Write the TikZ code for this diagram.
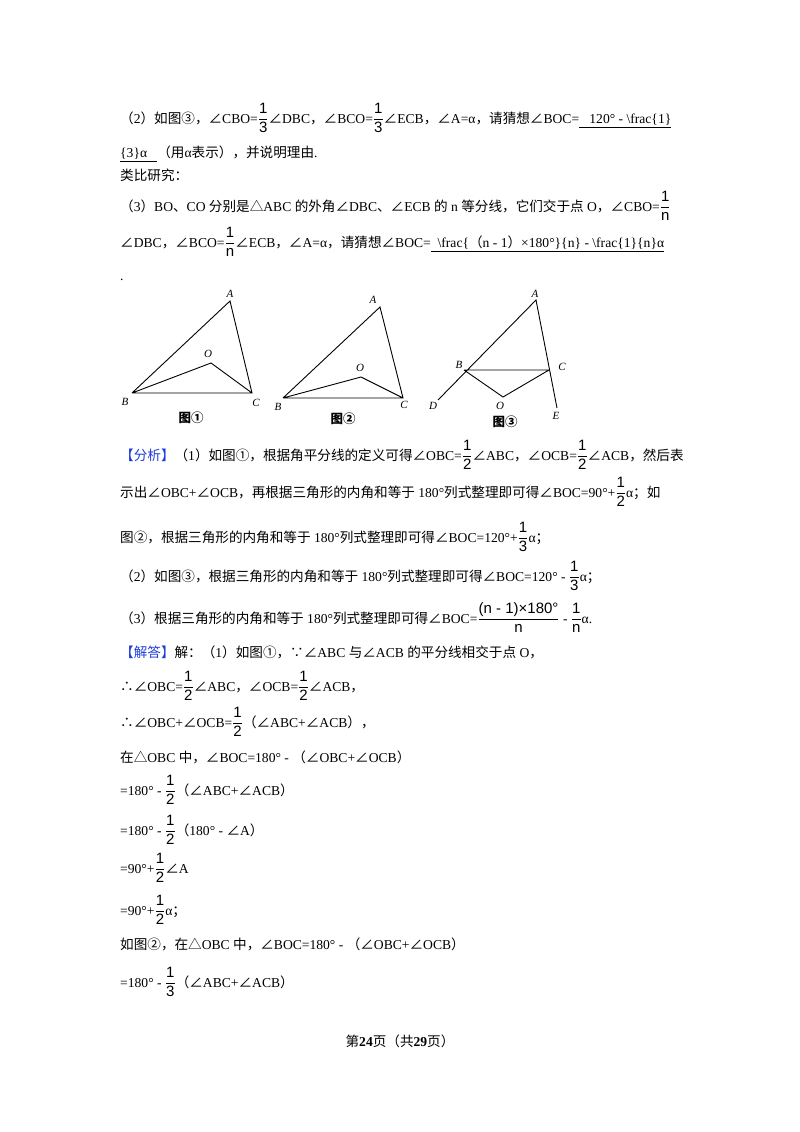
\documentclass[tikz,border=0pt]{standalone}
\usepackage{amsmath}
\usepackage{fontspec}
\setmainfont{Liberation Serif}
\newfontfamily\cjk{Noto Sans CJK SC}
\newfontfamily\frf{Liberation Sans}
\XeTeXinterchartokenstate=1
\newXeTeXintercharclass\cjkcls
\count255="4E00
\loop \XeTeXcharclass\count255=\cjkcls \advance\count255 by 1 \ifnum\count255<"A000 \repeat
\count255="3000
\loop \XeTeXcharclass\count255=\cjkcls \advance\count255 by 1 \ifnum\count255<"3040 \repeat
\count255="FF00
\loop \XeTeXcharclass\count255=\cjkcls \advance\count255 by 1 \ifnum\count255<"FF60 \repeat
\count255="2460
\loop \XeTeXcharclass\count255=\cjkcls \advance\count255 by 1 \ifnum\count255<"2474 \repeat
\XeTeXcharclass"2220=\cjkcls
\XeTeXcharclass"2234=\cjkcls
\XeTeXcharclass"2235=\cjkcls
\XeTeXcharclass"25B3=\cjkcls
\XeTeXinterchartoks 0 \cjkcls = {\cjk}
\XeTeXinterchartoks 4095 \cjkcls = {\cjk}
\XeTeXinterchartoks \cjkcls 0 = {\rmfamily}
\XeTeXinterchartoks \cjkcls 4095 = {\rmfamily}
\newcommand\fr[2]{$\dfrac{\text{\frf\fontsize{15}{17}\selectfont #1}}{\text{\frf\fontsize{15}{17}\selectfont #2}}$}
\definecolor{ablue}{RGB}{30,60,220}
\begin{document}
\begin{tikzpicture}[x=1pt,y=-1pt,
 tx/.style={anchor=base west,inner sep=0pt,font=\fontsize{13.6}{15}\selectfont},
 lb/.style={inner sep=0pt,font=\fontsize{11}{13}\selectfont\itshape},
 figcap/.style={inner sep=0pt,font=\fontsize{12.5}{14}\selectfont\bfseries},
 ln/.style={line width=0.9pt}]
\useasboundingbox[fill=white] (0,0) rectangle (800,1132);
\node[tx] (l1) at (120,123) {（2）如图③，∠CBO=\fr{1}{3}∠DBC，∠BCO=\fr{1}{3}∠ECB，∠A=α，请猜想∠BOC=\underline{\ \ \ 120° - \textbackslash frac\{1\}}};
\node[tx] (l2) at (120,157) {\underline{\{3\}α\ \ \ }（用α表示），并说明理由.};
\node[tx] (l3) at (120,180) {类比研究：};
\node[tx] (l4) at (120,211) {（3）BO、CO 分别是△ABC 的外角∠DBC、∠ECB 的 n 等分线，它们交于点 O，∠CBO=\fr{1}{n}};
\node[tx] (l5) at (120,247) {∠DBC，∠BCO=\fr{1}{n}∠ECB，∠A=α，请猜想∠BOC=\underline{\ \ \textbackslash frac\{（n - 1）×180°\}\{n\} - \textbackslash frac\{1\}\{n\}α}};
\node[tx] (l6) at (120,280) {.};
% figure 1
\coordinate (A1) at (230,301); \coordinate (B1) at (132,393); \coordinate (C1) at (252,393); \coordinate (O1) at (211,363);
\draw[ln] (B1) -- (A1) -- (C1) -- (B1) (B1) -- (O1) -- (C1);
\node[lb] (tA1) at (230,294) {A}; \node[lb] (tB1) at (125,402) {B}; \node[lb] (tC1) at (256,403) {C}; \node[lb] (tO1) at (208,354) {O};
\node[figcap] (g1) at (191,418) {图①};
% figure 2
\coordinate (A2) at (380,307); \coordinate (B2) at (283,398); \coordinate (C2) at (403,398); \coordinate (O2) at (361,377);
\draw[ln] (B2) -- (A2) -- (C2) -- (B2) (B2) -- (O2) -- (C2);
\node[lb] (tA2) at (373,300) {A}; \node[lb] (tB2) at (278,407) {B}; \node[lb] (tC2) at (404,405) {C}; \node[lb] (tO2) at (360,368) {O};
\node[figcap] (g2) at (343,419) {图②};
% figure 3
\coordinate (A3) at (536,300); \coordinate (B3) at (464,370); \coordinate (C3) at (549,370); \coordinate (D3) at (438,400); \coordinate (E3) at (557,408); \coordinate (O3) at (503,397);
\draw[ln] (D3) -- (A3) -- (E3) (B3) -- (C3) (B3) -- (O3) -- (C3);
\node[lb] (tA3) at (535,294) {A}; \node[lb] (tB3) at (459,365) {B}; \node[lb] (tC3) at (562,367) {C}; \node[lb] (tD3) at (433,406) {D}; \node[lb] (tE3) at (556,416) {E}; \node[lb] (tO3) at (500,406) {O};
\node[figcap] (g3) at (505,422) {图③};
% analysis
\node[tx] (a1) at (120,460) {\textcolor{ablue}{【分析】}（1）如图①，根据角平分线的定义可得∠OBC=\fr{1}{2}∠ABC，∠OCB=\fr{1}{2}∠ACB，然后表};
\node[tx] (a2) at (120,497) {示出∠OBC+∠OCB，再根据三角形的内角和等于 180°列式整理即可得∠BOC=90°+\fr{1}{2}α；如};
\node[tx] (a3) at (120,542) {图②，根据三角形的内角和等于 180°列式整理即可得∠BOC=120°+\fr{1}{3}α；};
\node[tx] (a4) at (120,581) {（2）如图③，根据三角形的内角和等于 180°列式整理即可得∠BOC=120° - \fr{1}{3}α；};
\node[tx] (a5) at (120,623) {（3）根据三角形的内角和等于 180°列式整理即可得∠BOC=\fr{(n - 1)×180°}{n} - \fr{1}{n}α.};
\node[tx] (s1) at (120,657) {\textcolor{ablue}{【解答】}解：（1）如图①，∵∠ABC 与∠ACB 的平分线相交于点 O，};
\node[tx] (s2) at (120,691) {∴∠OBC=\fr{1}{2}∠ABC，∠OCB=\fr{1}{2}∠ACB，};
\node[tx] (s3) at (120,727) {∴∠OBC+∠OCB=\fr{1}{2}（∠ABC+∠ACB），};
\node[tx] (s4) at (120,762) {在△OBC 中，∠BOC=180° - （∠OBC+∠OCB）};
\node[tx] (s5) at (120,795) {=180° - \fr{1}{2}（∠ABC+∠ACB）};
\node[tx] (s6) at (120,835) {=180° - \fr{1}{2}（180° - ∠A）};
\node[tx] (s7) at (120,873) {=90°+\fr{1}{2}∠A};
\node[tx] (s8) at (120,915) {=90°+\fr{1}{2}α；};
\node[tx] (s9) at (120,949) {如图②，在△OBC 中，∠BOC=180° - （∠OBC+∠OCB）};
\node[tx] (s10) at (120,987) {=180° - \fr{1}{3}（∠ABC+∠ACB）};
\node[tx,anchor=base] (pg) at (400,1046) {第\textbf{24}页（共\textbf{29}页）};
\end{tikzpicture}
\end{document}
